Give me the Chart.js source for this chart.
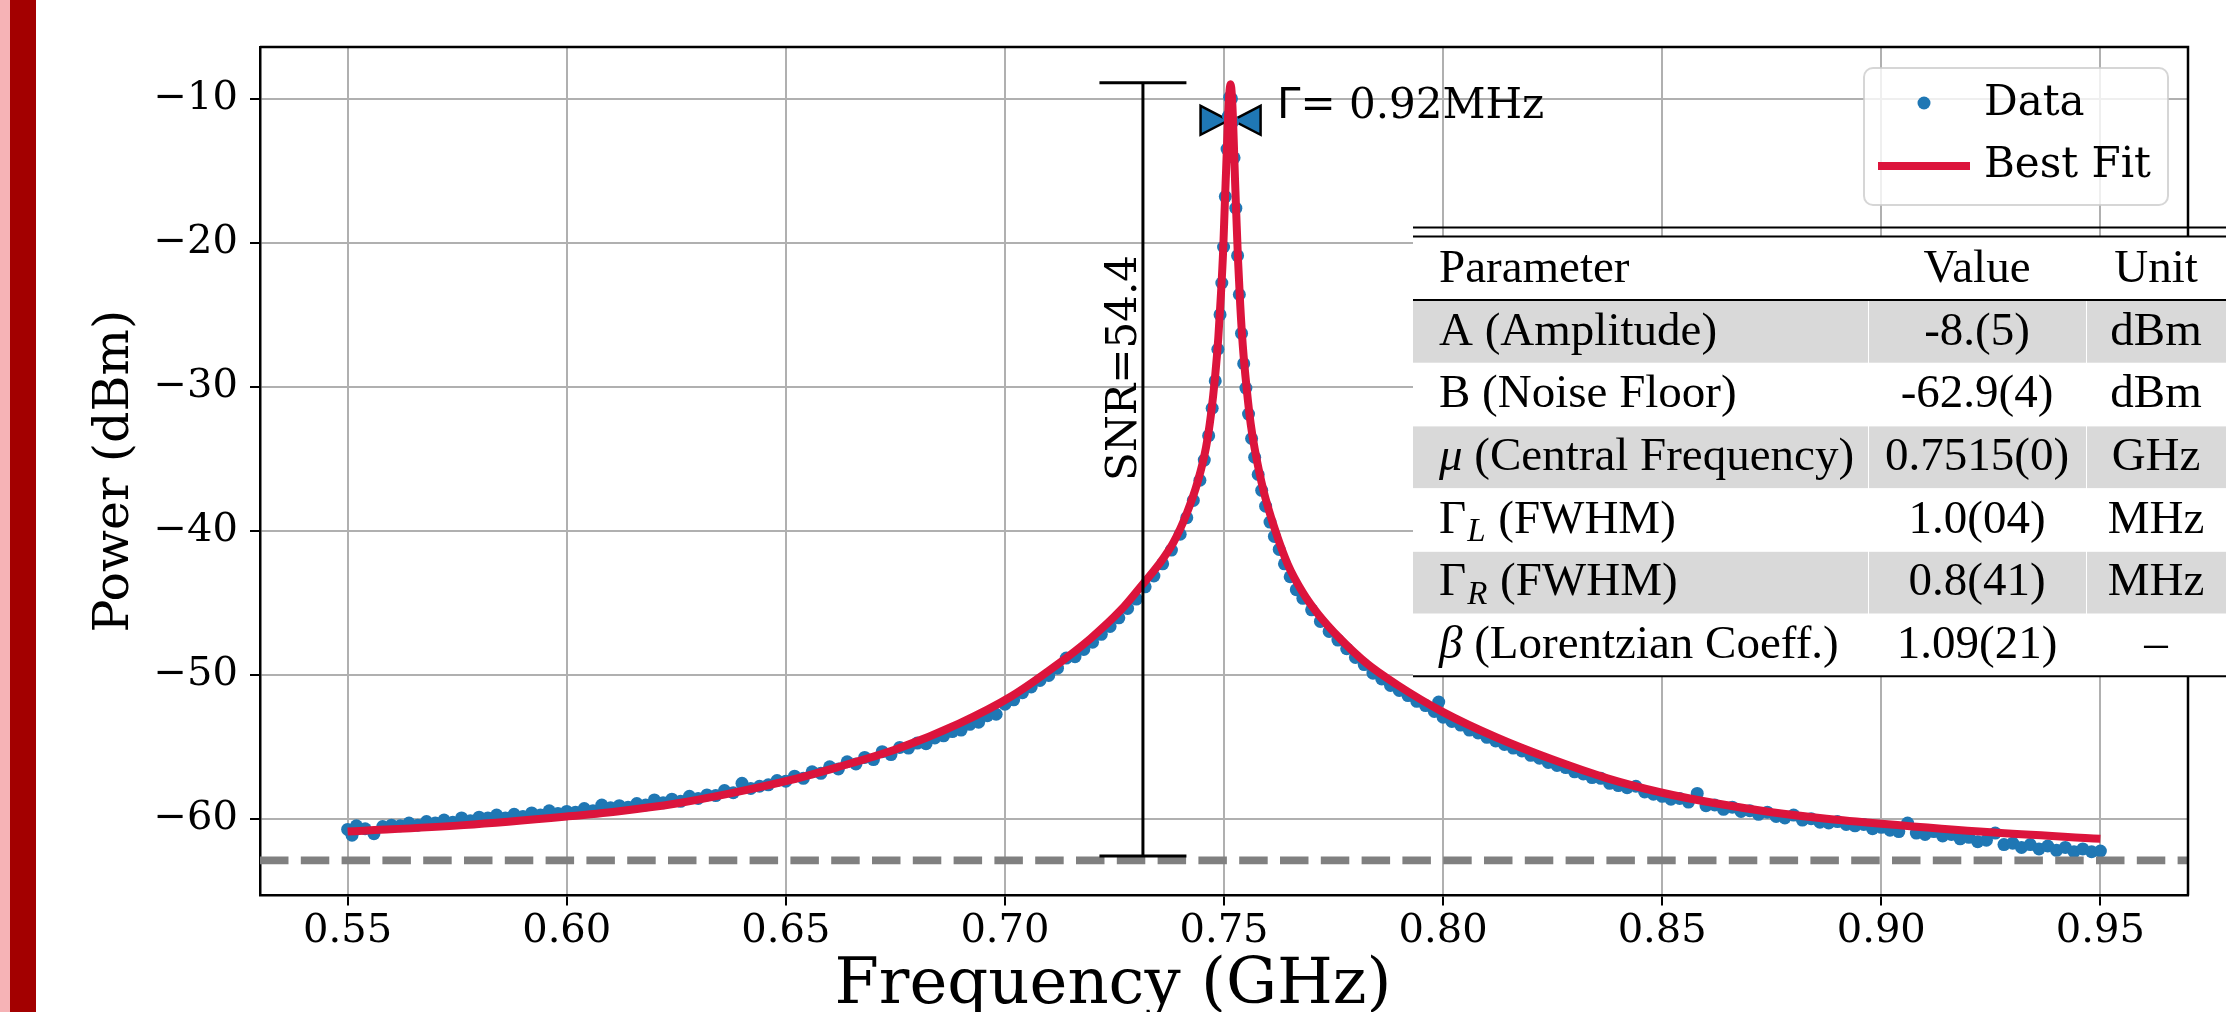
<!DOCTYPE html>
<html>
<head>
<meta charset="utf-8">
<script src="https://cdn.jsdelivr.net/npm/chart.js@4.4.1/dist/chart.umd.min.js"></script>
<style>
  html, body { margin: 0; padding: 0; background: #fff; overflow: hidden; }
  #spectrum { display: block; }
</style>
</head>
<body>
<canvas id="spectrum" width="2226" height="1012"></canvas>
<script>
// measured spectrum, left wing
const wingLeftFreq = [
  0.550, 0.551, 0.552, 0.554, 0.556, 0.558, 0.560, 0.562, 0.564, 0.566,
  0.568, 0.570, 0.572, 0.574, 0.576, 0.578, 0.580, 0.582, 0.584, 0.586,
  0.588, 0.590, 0.592, 0.594, 0.596, 0.598, 0.600, 0.602, 0.604, 0.606,
  0.608, 0.610, 0.612, 0.614, 0.616, 0.618, 0.620, 0.622, 0.624, 0.626,
  0.628, 0.630, 0.632, 0.634, 0.636, 0.638, 0.640, 0.642, 0.644, 0.646,
  0.648, 0.650, 0.652, 0.654, 0.656, 0.658, 0.660, 0.662, 0.664, 0.666,
  0.668, 0.670, 0.672, 0.674, 0.676, 0.678, 0.680, 0.682, 0.684, 0.686,
  0.688, 0.690, 0.692, 0.694, 0.696, 0.698, 0.700, 0.702, 0.704, 0.706,
  0.708, 0.710, 0.712, 0.714, 0.716, 0.718, 0.720, 0.722, 0.724, 0.726,
  0.728, 0.730, 0.732, 0.734, 0.736, 0.738, 0.740
];
const wingLeftPower = [
  -60.75, -61.15, -60.50, -60.70, -61.05, -60.55, -60.45, -60.50, -60.30, -60.45,
  -60.20, -60.30, -60.10, -60.25, -59.95, -60.15, -59.90, -59.95, -59.75, -59.95,
  -59.70, -59.85, -59.60, -59.75, -59.45, -59.65, -59.50, -59.55, -59.30, -59.45,
  -59.05, -59.25, -59.10, -59.20, -58.95, -59.05, -58.70, -58.90, -58.65, -58.80,
  -58.45, -58.60, -58.35, -58.40, -58.05, -58.20, -57.55, -57.90, -57.75, -57.65,
  -57.35, -57.40, -57.05, -57.20, -56.75, -56.85, -56.40, -56.55, -56.05, -56.20,
  -55.75, -55.90, -55.35, -55.55, -55.05, -55.10, -54.75, -54.80, -54.40, -54.25,
  -53.95, -53.85, -53.45, -53.30, -52.85, -52.75, -52.05, -51.75, -51.25, -50.85,
  -50.40, -50.05, -49.55, -48.85, -48.75, -48.25, -47.75, -47.20, -46.65, -46.05,
  -45.40, -44.75, -43.90, -43.15, -42.30, -41.35, -40.25
];

// measured spectrum, around the resonance
const peakFreq = [
  0.7415, 0.7430, 0.7445, 0.7455, 0.7465, 0.7473, 0.7480, 0.7486, 0.7491, 0.7495,
  0.7499, 0.7503, 0.7507, 0.7510, 0.7513, 0.7517, 0.7520, 0.7523, 0.7527, 0.7531,
  0.7535, 0.7540, 0.7545, 0.7550, 0.7556, 0.7563, 0.7570, 0.7578, 0.7586, 0.7595,
  0.7605, 0.7615, 0.7626, 0.7638, 0.7651, 0.7665
];
const peakPower = [
  -39.10, -37.90, -36.50, -35.10, -33.40, -31.50, -29.60, -27.40, -25.00, -22.80,
  -20.30, -16.80, -13.50, -11.20, -9.90, -10.00, -11.60, -14.10, -17.60, -20.90,
  -23.60, -26.30, -28.40, -30.10, -31.90, -33.60, -34.90, -36.10, -37.20, -38.30,
  -39.40, -40.40, -41.30, -42.30, -43.20, -44.10
];

// measured spectrum, right wing
const wingRightFreq = [
  0.768, 0.770, 0.772, 0.774, 0.776, 0.778, 0.780, 0.782, 0.784, 0.786,
  0.788, 0.790, 0.792, 0.794, 0.796, 0.798, 0.799, 0.800, 0.802, 0.804,
  0.806, 0.808, 0.810, 0.812, 0.814, 0.816, 0.818, 0.820, 0.822, 0.824,
  0.826, 0.828, 0.830, 0.832, 0.834, 0.836, 0.838, 0.840, 0.842, 0.844,
  0.846, 0.848, 0.850, 0.852, 0.854, 0.856, 0.858, 0.860, 0.862, 0.864,
  0.866, 0.868, 0.870, 0.872, 0.874, 0.876, 0.878, 0.880, 0.882, 0.884,
  0.886, 0.888, 0.890, 0.892, 0.894, 0.896, 0.898, 0.900, 0.902, 0.904,
  0.906, 0.908, 0.910, 0.912, 0.914, 0.916, 0.918, 0.920, 0.922, 0.924,
  0.926, 0.928, 0.930, 0.932, 0.934, 0.936, 0.938, 0.940, 0.942, 0.944,
  0.946, 0.948, 0.950
];
const wingRightPower = [
  -44.70, -45.50, -46.30, -47.00, -47.60, -48.20, -48.80, -49.30, -49.90, -50.30,
  -50.75, -51.10, -51.45, -51.85, -52.15, -52.55, -51.90, -52.95, -53.25, -53.50,
  -53.85, -54.05, -54.35, -54.60, -54.85, -55.10, -55.30, -55.60, -55.80, -56.10,
  -56.30, -56.45, -56.75, -56.90, -57.15, -57.20, -57.55, -57.70, -57.85, -57.75,
  -58.15, -58.30, -58.45, -58.65, -58.60, -58.85, -58.25, -59.10, -59.05, -59.35,
  -59.20, -59.50, -59.45, -59.70, -59.55, -59.85, -59.95, -59.75, -60.10, -60.00,
  -60.25, -60.30, -60.20, -60.40, -60.50, -60.40, -60.70, -60.60, -60.80, -60.90,
  -60.30, -61.00, -61.10, -60.90, -61.20, -61.10, -61.40, -61.30, -61.60, -61.50,
  -61.00, -61.80, -61.70, -62.00, -61.80, -62.10, -61.90, -62.20, -62.00, -62.30,
  -62.10, -62.30, -62.25
];

// fitted curve
const fitFreq = [
  0.550, 0.5765, 0.600, 0.6115, 0.625, 0.6365, 0.650, 0.6615, 0.675, 0.6895,
  0.7015, 0.7115, 0.7195, 0.7265, 0.7315, 0.7350, 0.7385, 0.7415, 0.7440, 0.7459,
  0.7470, 0.7480, 0.7487, 0.7493, 0.7498, 0.7502, 0.7505, 0.7509, 0.7512, 0.7515,
  0.7518, 0.7521, 0.7525, 0.7528, 0.7532, 0.7537, 0.7543, 0.7552, 0.7561, 0.7570,
  0.7590, 0.7615, 0.7645, 0.7680, 0.7715, 0.7765, 0.7825, 0.7895, 0.800, 0.8125,
  0.825, 0.8375, 0.850, 0.8625, 0.875, 0.8875, 0.900, 0.925, 0.950
];
const fitPower = [
  -60.90, -60.45, -59.85, -59.50, -58.95, -58.30, -57.40, -56.45, -55.20, -53.40,
  -51.50, -49.40, -47.50, -45.50, -43.70, -42.40, -40.80, -38.80, -36.60, -34.20,
  -32.00, -29.20, -26.60, -23.60, -20.60, -17.20, -14.80, -11.50, -9.70, -9.00,
  -9.80, -11.80, -15.50, -18.00, -21.20, -24.30, -27.20, -30.20, -32.60, -34.30,
  -37.20, -39.80, -42.30, -44.30, -45.80, -47.50, -49.20, -50.70, -52.60, -54.40,
  -55.90, -57.20, -58.20, -58.95, -59.55, -60.00, -60.35, -60.95, -61.40
];

// annotations
const noiseFloor = -62.9;
const centerFreq = 0.7515;
const fwhmGHz = 0.00092;
const halfMaxPower = -11.5;
const gammaLabel = '= 0.92MHz';
const gammaLabelPos = [0.7621, -10.6];
const snrFreq = 0.7315;
const snrTop = -8.9;
const snrBottom = -62.6;
const snrLabel = 'SNR=54.4';
const snrLabelPower = -28.7;

// fit parameter table
const tableHeader = ['Parameter', 'Value', 'Unit'];
const paramSymbols = ['A', 'B', 'μ', 'Γ', 'Γ', 'β'];
const paramItalic = [false, false, true, false, false, true];
const paramSubs = ['', '', '', 'L', 'R', ''];
const paramNames = ['(Amplitude)', '(Noise Floor)', '(Central Frequency)', '(FWHM)', '(FWHM)', '(Lorentzian Coeff.)'];
const tableValues = ['-8.(5)', '-62.9(4)', '0.7515(0)', '1.0(04)', '0.8(41)', '1.09(21)'];
const tableUnits = ['dBm', 'dBm', 'GHz', 'MHz', 'MHz', '–'];

const SERIF = "'DejaVu Serif', serif";
const TEX = "'Liberation Serif', serif";
Chart.defaults.font.family = SERIF;
Chart.defaults.color = '#000';

function toPoints(xs, ys) {
  return xs.map((x, i) => ({ x: x, y: ys[i] }));
}
const measured = [].concat(
  toPoints(wingLeftFreq, wingLeftPower),
  toPoints(peakFreq, peakPower),
  toPoints(wingRightFreq, wingRightPower)
);

function drawTable(c) {
  const colX = [1413, 1868, 2086, 2226];
  const top = 236.5, headBottom = 300, rowH = 62.7;
  const bottom = headBottom + rowH * tableValues.length;
  const fs = 47;
  c.save();
  c.fillStyle = '#fff';
  c.fillRect(colX[0], top, colX[3] - colX[0], bottom - top);
  for (let i = 0; i < tableValues.length; i += 2) {
    c.fillStyle = '#d9d9d9';
    for (let k = 0; k < 3; k++) {
      c.fillRect(colX[k] + (k ? 1 : 0), headBottom + i * rowH + 1, colX[k + 1] - colX[k] - (k ? 1 : 0), rowH - 1);
    }
  }
  c.strokeStyle = '#000';
  c.lineWidth = 2;
  [227.5, top, headBottom, bottom].forEach(yy => {
    c.beginPath(); c.moveTo(colX[0], yy); c.lineTo(colX[3], yy); c.stroke();
  });

  c.fillStyle = '#000';
  c.textBaseline = 'middle';
  c.font = fs + 'px ' + TEX;
  const hy = (top + headBottom) / 2 + 1;
  c.textAlign = 'left';
  c.fillText(tableHeader[0], 1439, hy);
  c.textAlign = 'center';
  c.fillText(tableHeader[1], (colX[1] + colX[2]) / 2, hy);
  c.fillText(tableHeader[2], (colX[2] + colX[3]) / 2, hy);

  tableValues.forEach((val, i) => {
    const yy = headBottom + i * rowH + rowH / 2 + 1;
    let px = 1439;
    c.textAlign = 'left';
    c.font = (paramItalic[i] ? 'italic ' : '') + fs + 'px ' + TEX;
    c.fillText(paramSymbols[i], px, yy);
    px += c.measureText(paramSymbols[i]).width;
    if (paramSubs[i]) {
      c.font = 'italic 33px ' + TEX;
      c.fillText(paramSubs[i], px + 1, yy + 12);
      px += c.measureText(paramSubs[i]).width + 2;
    }
    c.font = fs + 'px ' + TEX;
    c.fillText(' ' + paramNames[i], px, yy);
    c.textAlign = 'center';
    c.fillText(val, (colX[1] + colX[2]) / 2, yy);
    c.fillText(tableUnits[i], (colX[2] + colX[3]) / 2, yy);
  });
  c.restore();
}

function drawLegend(c, datasets) {
  const bx = 1864, by = 68, bw = 304, bh = 137;
  c.save();
  c.beginPath();
  c.roundRect(bx, by, bw, bh, 9);
  c.fillStyle = 'rgba(255,255,255,0.8)';
  c.fill();
  c.strokeStyle = 'rgba(204,204,204,0.8)';
  c.lineWidth = 2;
  c.stroke();
  const dataSet = datasets.find(d => !d.showLine);
  const fitSet = datasets.find(d => d.showLine);
  c.fillStyle = dataSet.backgroundColor;
  c.beginPath(); c.arc(1924, 103, 6.5, 0, Math.PI * 2); c.fill();
  c.strokeStyle = fitSet.borderColor;
  c.lineWidth = 8;
  c.beginPath(); c.moveTo(1878, 166); c.lineTo(1970, 166); c.stroke();
  c.fillStyle = '#000';
  c.font = '42px ' + SERIF;
  c.textAlign = 'left';
  c.textBaseline = 'middle';
  c.fillText(dataSet.label, 1984, 104);
  c.fillText(fitSet.label, 1984, 166);
  c.restore();
}

const overlay = {
  id: 'overlay',
  beforeDraw(chart) {
    const c = chart.ctx;
    c.save();
    c.fillStyle = '#fff';
    c.fillRect(0, 0, chart.width, chart.height);
    c.fillStyle = '#f6b3b6';
    c.fillRect(0, 0, 10, chart.height);
    c.fillStyle = '#a30000';
    c.fillRect(10, 0, 26, chart.height);
    c.restore();
  },
  beforeDatasetsDraw(chart) {
    const { ctx: c, scales: { x, y } } = chart;
    // FWHM bow-tie markers
    const yh = y.getPixelForValue(halfMaxPower);
    const xl = x.getPixelForValue(centerFreq - fwhmGHz / 2);
    const xr = x.getPixelForValue(centerFreq + fwhmGHz / 2);
    c.save();
    c.fillStyle = '#1f77b4';
    c.strokeStyle = '#000';
    c.lineWidth = 2.5;
    [[xl, -1], [xr, 1]].forEach(([px, dir]) => {
      c.beginPath();
      c.moveTo(px, yh);
      c.lineTo(px + dir * 28, yh - 14.5);
      c.lineTo(px + dir * 28, yh + 14.5);
      c.closePath();
      c.fill();
      c.stroke();
    });
    c.restore();
  },
  afterDatasetsDraw(chart) {
    const { ctx: c, chartArea: a, scales: { x, y } } = chart;
    c.save();
    // noise floor
    c.beginPath();
    c.rect(a.left, a.top, a.right - a.left, a.bottom - a.top);
    c.clip();
    c.strokeStyle = '#808080';
    c.lineWidth = 7.7;
    c.setLineDash([28.5, 12.3]);
    const yb = y.getPixelForValue(noiseFloor);
    c.beginPath(); c.moveTo(a.left, yb); c.lineTo(a.right, yb); c.stroke();
    c.setLineDash([]);

    // SNR bar
    const xs = x.getPixelForValue(snrFreq);
    const yt = y.getPixelForValue(snrTop);
    const ybt = y.getPixelForValue(snrBottom);
    c.strokeStyle = '#000';
    c.lineWidth = 3;
    c.beginPath();
    c.moveTo(xs, yt); c.lineTo(xs, ybt);
    c.moveTo(xs - 43.5, yt); c.lineTo(xs + 43.5, yt);
    c.moveTo(xs - 43.5, ybt); c.lineTo(xs + 43.5, ybt);
    c.stroke();
    c.restore();

    // SNR label
    c.save();
    c.translate(xs - 7, y.getPixelForValue(snrLabelPower));
    c.rotate(-Math.PI / 2);
    c.fillStyle = '#000';
    c.font = '42px ' + SERIF;
    c.textAlign = 'center';
    c.textBaseline = 'alphabetic';
    c.fillText(snrLabel, 0, 0);
    c.restore();

    // Gamma label
    c.save();
    c.fillStyle = '#000';
    c.textBaseline = 'middle';
    c.textAlign = 'left';
    let gx = x.getPixelForValue(gammaLabelPos[0]);
    const gy = y.getPixelForValue(gammaLabelPos[1]);
    c.font = "42px 'DejaVu Sans', sans-serif";
    c.fillText('Γ', gx, gy);
    gx += c.measureText('Γ').width;
    c.font = '42px ' + SERIF;
    c.fillText(gammaLabel, gx, gy);
    c.restore();

    // top and right spines
    c.save();
    c.strokeStyle = '#000';
    c.lineWidth = 2.5;
    c.beginPath();
    c.moveTo(a.left, a.top); c.lineTo(a.right, a.top); c.lineTo(a.right, a.bottom);
    c.stroke();
    c.restore();

    drawLegend(c, chart.data.datasets);
    drawTable(c);
  },
  afterDraw(chart) {
    const c = chart.ctx;
    c.save();
    c.fillStyle = '#000';
    c.font = '64px ' + SERIF;
    c.textAlign = 'center';
    c.textBaseline = 'alphabetic';
    c.fillText('Frequency (GHz)', 1113, 1003);
    c.restore();
  }
};

const ctx = document.getElementById('spectrum');

const spectrumChart = new Chart(ctx, {
  type: 'scatter',
  data: {
    datasets: [
      {
        label: 'Best Fit',
        data: toPoints(fitFreq, fitPower),
        showLine: true,
        borderColor: '#dc143c',
        borderWidth: 8,
        pointRadius: 0,
        cubicInterpolationMode: 'monotone',
        order: 0
      },
      {
        label: 'Data',
        data: measured,
        showLine: false,
        backgroundColor: '#1f77b4',
        borderWidth: 0,
        pointRadius: 6.5,
        order: 1
      }
    ]
  },
  options: {
    responsive: false,
    animation: false,
    devicePixelRatio: 1,
    layout: { padding: { left: 40, top: 47, right: 38, bottom: 0 } },
    plugins: {
      legend: { display: false },
      tooltip: { enabled: false }
    },
    scales: {
      x: {
        type: 'linear',
        min: 0.53,
        max: 0.97,
        afterFit: s => { s.height = 116.6; },
        border: { color: '#000', width: 2.5 },
        grid: { color: '#b0b0b0', lineWidth: 2, tickLength: 10, tickColor: '#000', tickWidth: 2 },
        ticks: {
          stepSize: 0.05,
          includeBounds: false,
          padding: 2,
          maxRotation: 0,
          autoSkip: false,
          font: { size: 40 },
          callback: v => v.toFixed(2)
        }
      },
      y: {
        type: 'linear',
        min: -65.33,
        max: -6.41,
        afterFit: s => { s.width = 220; },
        border: { color: '#000', width: 2.5 },
        grid: { color: '#b0b0b0', lineWidth: 2, tickLength: 10, tickColor: '#000', tickWidth: 2 },
        ticks: {
          stepSize: 10,
          includeBounds: false,
          padding: 12,
          font: { size: 40 },
          callback: v => (v < 0 ? '\u2212' : '') + Math.abs(v)
        },
        title: {
          display: true,
          text: 'Power (dBm)',
          font: { size: 49 },
          padding: { top: 46, bottom: 0 }
        }
      }
    }
  },
  plugins: [overlay]
});
</script>
</body>
</html>
